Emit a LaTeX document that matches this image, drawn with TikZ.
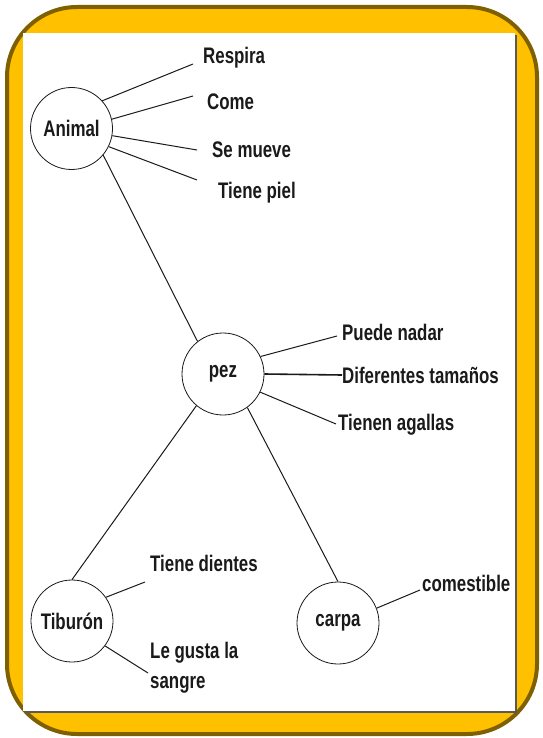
\documentclass[tikz,border=0pt]{standalone}
\usepackage{fontspec}
\setmainfont[FakeStretch=0.75]{Liberation Sans}
\definecolor{frameyellow}{HTML}{FFC000}
\definecolor{framebrown}{HTML}{7F6000}
\definecolor{ink}{HTML}{1A1A1A}
\begin{document}
\begin{tikzpicture}[x=1pt,y=1pt,
  concept/.style={draw=ink,line width=0.8pt,circle,minimum size=82pt,inner sep=0pt,
    font=\bfseries\fontsize{22.5}{30}\selectfont,text=ink},
  lab/.style={anchor=west,inner sep=0pt,font=\bfseries\fontsize{22.5}{30}\selectfont,text=ink,align=left},
  link/.style={draw=ink,line width=1pt}]
\useasboundingbox (0,0) rectangle (542,-738);
% frame
\draw[fill=frameyellow,draw=framebrown,line width=4pt,rounded corners=70pt] (7,-7) rectangle (537,-734);
\fill[gray!70!black] (25,-35) rectangle (517,-713);
\fill[white] (23,-33) rectangle (515,-711);
% concepts
\node[concept] (animal) at (71.5,-128.5) {Animal};
\node[concept] (pez) at (223,-374) {pez};
\node[concept] (tiburon) at (72,-621) {Tiburón};
\node[concept] (carpa) at (338,-623) {carpa};
% labels
\node[lab] (respira) at (203,-58) {Respira};
\node[lab] (come) at (207,-102) {Come};
\node[lab] (semueve) at (212,-150) {Se mueve};
\node[lab] (piel) at (218,-193) {Tiene piel};
\node[lab] (nadar) at (342,-332) {Puede nadar};
\node[lab] (tamanos) at (342,-375) {Diferentes tamaños};
\node[lab] (agallas) at (338,-425) {Tienen agallas};
\node[lab] (dientes) at (150,-563) {Tiene dientes};
\node[lab] (sangre) at (150,-668) {Le gusta la\\sangre};
\node[lab] (comestible) at (422,-583) {comestible};
% connectors
\draw[link] (animal.42) -- ([shift={(-10pt,-6pt)}]respira.west);
\draw[link] (animal.13) -- ([shift={(-14pt,6pt)}]come.west);
\draw[link] (animal.-10) -- ([shift={(-15pt,0pt)}]semueve.west);
\draw[link] (animal.-26) -- ([shift={(-21pt,13pt)}]piel.west);
\draw[link] (animal.-40) -- (pez.128);
\draw[link] (pez.25) -- ([shift={(-5pt,-4pt)}]nadar.west);
\draw[link,line width=1.6pt] (pez.0) -- (tamanos.west);
\draw[link] (pez.-26) -- ([shift={(-2pt,1pt)}]agallas.west);
\draw[link] (pez.230) -- (tiburon.90);
\draw[link] (pez.-54) -- (carpa.90);
\draw[link] (tiburon.35) -- ([shift={(-5pt,-19pt)}]dientes.west);
\draw[link] (tiburon.-37) -- ([shift={(-2pt,-5pt)}]sangre.west);
\draw[link] (carpa.21) -- ([shift={(-2pt,-7pt)}]comestible.west);
\end{tikzpicture}
\end{document}
